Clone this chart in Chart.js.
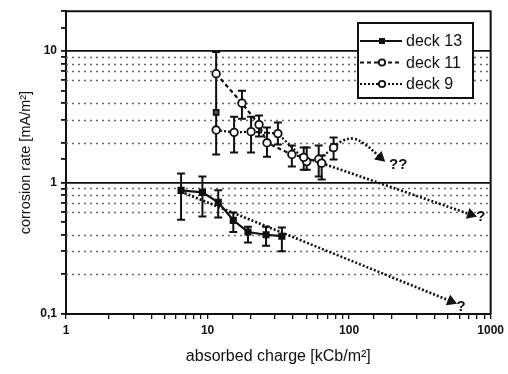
<!DOCTYPE html>
<html>
<head>
<meta charset="utf-8">
<script src="https://cdn.jsdelivr.net/npm/chart.js@4.4.1/dist/chart.umd.min.js"></script>
<style>
  html, body { margin: 0; padding: 0; background: #fff; }
</style>
</head>
<body>
<canvas id="chart" width="508" height="374"></canvas>
<script>
'use strict'

// deck 13 (solid line, filled squares)
const deck13X = [6.5, 9.2, 11.9, 15.2, 19.3, 25.9, 33.5]
const deck13Y = [0.87, 0.84, 0.705, 0.515, 0.42, 0.40, 0.39]
const deck13Lo = [0.52, 0.55, 0.54, 0.42, 0.35, 0.33, 0.30]
const deck13Hi = [1.17, 1.11, 0.87, 0.59, 0.46, 0.46, 0.455]
const deck13ExtraX = [11.5]
const deck13ExtraY = [3.4]

// deck 11 (dashed line, open circles)
const deck11X = [11.5, 17.5, 23.1, 26.3, 39.4, 47.8, 64]
const deck11Y = [6.7, 4.0, 2.75, 2.0, 1.63, 1.55, 1.4]
const deck11Lo = [1.63, 3.05, 2.23, 1.57, 1.32, 1.25, 1.05]
const deck11Hi = [9.8, 4.98, 3.22, 2.61, 1.91, 1.84, 1.6]

// deck 9 (dotted line, open circles)
const deck9X = [11.5, 15.4, 20.3, 31.4, 50.2, 61, 77.7]
const deck9Y = [2.5, 2.4, 2.43, 2.35, 1.44, 1.5, 1.84]
const deck9Lo = [null, 1.69, 1.69, 1.94, 1.25, 1.11, 1.49]
const deck9Hi = [null, 3.16, 3.16, 2.85, 1.84, 1.91, 2.19]

// extrapolations (arrows)
const trend13X = [6.5, 525]
const trend13Y = [0.85, 0.125]
const trend11X = [64, 724]
const trend11Y = [1.4, 0.57]
const trend9X = [77.7, 88, 107, 130, 166]
const trend9Y = [1.84, 2.05, 2.15, 1.94, 1.55]

const noteText = ['??', '?', '?']
const noteX = [222, 851, 617]
const noteY = [1.37, 0.543, 0.113]

const xTickValues = [1, 10, 100, 1000]
const xTickLabels = ['1', '10', '100', '1000']
const yTickValues = [0.1, 1, 10]
const yTickLabels = ['0,1', '1', '10']
const yMinorGrid = [0.2, 0.3, 0.4, 0.6, 0.7, 0.8, 0.9, 2, 3, 4, 6, 7, 8, 9]

const ink = '#111'
const FONT = 'Liberation Sans, Arial, Helvetica, sans-serif'

const pts = (xs, ys) => xs.map((x, i) => ({ x: x, y: ys[i] }))
const findLabel = (vals, labels, v) => {
    let i = vals.findIndex(t => Math.abs(t - v) / t < 1e-6)
    return i >= 0 ? labels[i] : ''
}

const minorGrid = {
    id: 'minorGrid',
    beforeDatasetsDraw(chart) {
        const { ctx, chartArea, scales } = chart
        ctx.save()
        ctx.strokeStyle = '#666'
        ctx.lineWidth = 1.4
        ctx.setLineDash([2, 4])
        yMinorGrid.forEach(v => {
            let py = Math.round(scales.y.getPixelForValue(v)) + 0.5
            ctx.beginPath()
            ctx.moveTo(chartArea.left, py)
            ctx.lineTo(chartArea.right, py)
            ctx.stroke()
        })
        ctx.restore()
    }
}

const errorBars = {
    id: 'errorBars',
    beforeDatasetsDraw(chart) {
        const { ctx, scales } = chart
        ctx.save()
        ctx.strokeStyle = ink
        ctx.lineWidth = 2
        chart.data.datasets.forEach(ds => {
            if (!ds.errLo) return
            ds.data.forEach((p, i) => {
                if (ds.errLo[i] == null) return
                let px = scales.x.getPixelForValue(p.x)
                let y1 = scales.y.getPixelForValue(ds.errLo[i])
                let y2 = scales.y.getPixelForValue(ds.errHi[i])
                ctx.beginPath()
                ctx.moveTo(px, y1); ctx.lineTo(px, y2)
                ctx.moveTo(px - 4, y1); ctx.lineTo(px + 4, y1)
                ctx.moveTo(px - 4, y2); ctx.lineTo(px + 4, y2)
                ctx.stroke()
            })
        })
        ctx.restore()
    }
}

const frameAndLegend = {
    id: 'frameAndLegend',
    afterDatasetsDraw(chart) {
        const { ctx, chartArea, scales } = chart
        ctx.save()
        // top / right frame
        ctx.strokeStyle = ink
        ctx.lineWidth = 2
        ctx.beginPath()
        ctx.moveTo(chartArea.left, chartArea.top)
        ctx.lineTo(chartArea.right, chartArea.top)
        ctx.lineTo(chartArea.right, chartArea.bottom)
        ctx.stroke()

        // notes
        ctx.fillStyle = ink
        ctx.font = 'bold 15px ' + FONT
        ctx.textAlign = 'center'
        ctx.textBaseline = 'middle'
        noteText.forEach((t, i) => {
            ctx.fillText(t, scales.x.getPixelForValue(noteX[i]), scales.y.getPixelForValue(noteY[i]))
        })

        // legend box
        let bx = 358, by = 23, bw = 115, bh = 75
        ctx.fillStyle = '#fff'
        ctx.fillRect(bx, by, bw, bh)
        ctx.lineWidth = 2
        ctx.strokeRect(bx, by, bw, bh)
        let rows = chart.data.datasets.filter(d => d.inLegend)
        rows.forEach((ds, i) => {
            let ly = by + 18 + i * 21.5
            ctx.strokeStyle = ink
            ctx.lineWidth = 2
            ctx.setLineDash(ds.borderDash || [])
            ctx.beginPath()
            ctx.moveTo(bx + 2, ly); ctx.lineTo(bx + 44, ly)
            ctx.stroke()
            ctx.setLineDash([])
            ctx.lineWidth = 1.8
            if (ds.pointStyle == 'rect') {
                ctx.fillStyle = ink
                ctx.fillRect(bx + 21, ly - 3, 6, 6)
            } else {
                ctx.fillStyle = '#fff'
                ctx.beginPath()
                ctx.arc(bx + 24, ly, 3.2, 0, Math.PI * 2)
                ctx.fill(); ctx.stroke()
            }
            ctx.fillStyle = ink
            ctx.font = '16px ' + FONT
            ctx.textAlign = 'left'
            ctx.fillText(ds.label, bx + 48, ly + 1)
        })
        ctx.restore()
    }
}

const trendSet = (xs, ys, rot, tension) => ({
    data: pts(xs, ys),
    borderColor: ink,
    borderWidth: 2.6,
    borderDash: [2, 2],
    tension: tension,
    pointStyle: xs.map((x, i) => i == xs.length - 1 ? 'triangle' : 'circle'),
    pointRadius: xs.map((x, i) => i == xs.length - 1 ? 4 : 0),
    pointRotation: rot,
    pointBackgroundColor: ink,
    pointBorderColor: ink,
    order: 5
})

const config = {
    type: 'line',
    data: {
        datasets: [
            {
                label: 'deck 13', inLegend: true,
                data: pts(deck13X, deck13Y), errLo: deck13Lo, errHi: deck13Hi,
                borderColor: ink, borderWidth: 2.2,
                pointStyle: 'rect', pointRadius: 3.5,
                pointBackgroundColor: ink, pointBorderColor: ink, order: 1
            },
            {
                label: 'deck 11', inLegend: true,
                data: pts(deck11X, deck11Y), errLo: deck11Lo, errHi: deck11Hi,
                borderColor: ink, borderWidth: 2.2, borderDash: [4, 3],
                pointStyle: 'circle', pointRadius: 3.8, pointBorderWidth: 1.8,
                pointBackgroundColor: '#fff', pointBorderColor: ink, order: 2
            },
            {
                label: 'deck 9', inLegend: true,
                data: pts(deck9X, deck9Y), errLo: deck9Lo, errHi: deck9Hi,
                borderColor: ink, borderWidth: 2.2, borderDash: [2, 2],
                pointStyle: 'circle', pointRadius: 3.8, pointBorderWidth: 1.8,
                pointBackgroundColor: '#fff', pointBorderColor: ink, order: 3
            },
            {
                data: pts(deck13ExtraX, deck13ExtraY), showLine: false,
                pointStyle: 'rect', pointRadius: 3.5, pointBorderWidth: 1.8,
                pointBackgroundColor: '#555', pointBorderColor: ink, order: 1
            },
            trendSet(trend13X, trend13Y, 112, 0),
            trendSet(trend11X, trend11Y, 109, 0),
            trendSet(trend9X, trend9Y, 131, 0.4)
        ]
    },
    options: {
        responsive: false,
        animation: false,
        events: [],
        layout: { padding: { left: 0, right: 15, top: 11, bottom: 0 } },
        plugins: {
            legend: { display: false },
            title: { display: false },
            tooltip: { enabled: false }
        },
        scales: {
            x: {
                type: 'logarithmic',
                min: 1, max: 1000,
                afterFit: scale => { scale.height = 60 },
                border: { color: ink, width: 2 },
                grid: { drawOnChartArea: false, color: ink, tickLength: 5, lineWidth: 1.3 },
                ticks: {
                    autoSkip: false, maxRotation: 0, padding: 4, color: ink,
                    font: { family: FONT, size: 12, weight: 'bold' },
                    callback: function (value) { return findLabel(xTickValues, xTickLabels, value) }
                },
                title: {
                    display: true, text: 'absorbed charge [kCb/m²]', color: ink,
                    font: { family: FONT, size: 16 },
                    padding: { top: 0, bottom: 8 }
                }
            },
            y: {
                type: 'logarithmic',
                min: 0.1, max: 20,
                afterFit: scale => { scale.width = 66 },
                border: { color: ink, width: 2 },
                grid: {
                    color: ctx => findLabel(yTickValues, yTickLabels, ctx.tick.value) ? ink : 'rgba(0,0,0,0)',
                    lineWidth: 1.8,
                    tickColor: ink, tickLength: 5
                },
                ticks: {
                    autoSkip: false, padding: 4, color: ink,
                    font: { family: FONT, size: 12, weight: 'bold' },
                    callback: function (value) { return findLabel(yTickValues, yTickLabels, value) }
                },
                title: {
                    display: true, text: 'corrosion rate [mA/m²]', color: ink,
                    font: { family: FONT, size: 14.5 },
                    padding: { top: 17, bottom: 0 }
                }
            }
        }
    },
    plugins: [minorGrid, errorBars, frameAndLegend]
}

let ctx = document.getElementById('chart').getContext('2d')
let myChart = new Chart(ctx, config)
</script>
</body>
</html>
